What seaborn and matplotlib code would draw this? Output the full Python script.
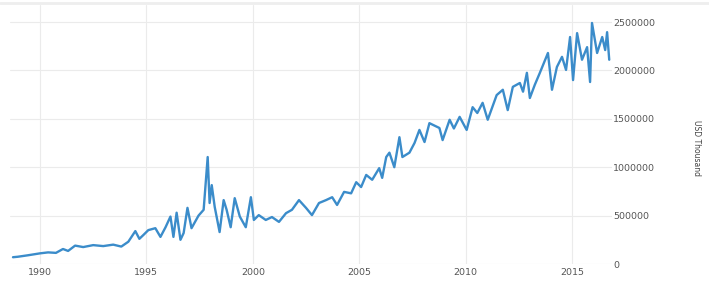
import matplotlib
matplotlib.use("Agg")
import matplotlib.pyplot as plt
import seaborn as sns
import pandas as pd
from matplotlib.lines import Line2D

years = [1988.73, 1988.96, 1989.43, 1990.00, 1990.38, 1990.75, 1991.08, 1991.32, 1991.65,
         1992.03, 1992.50, 1992.97, 1993.44, 1993.82, 1994.15, 1994.48, 1994.67, 1994.86,
         1995.09, 1995.42, 1995.66, 1995.90, 1996.13, 1996.27, 1996.42, 1996.60, 1996.75,
         1996.93, 1997.12, 1997.45, 1997.69, 1997.88, 1997.97, 1998.07, 1998.21, 1998.44,
         1998.63, 1998.77, 1998.96, 1999.15, 1999.39, 1999.67, 1999.91, 2000.05, 2000.28,
         2000.61, 2000.90, 2001.23, 2001.56, 2001.84, 2002.17, 2002.50, 2002.78, 2003.11,
         2003.44, 2003.73, 2003.96, 2004.29, 2004.62, 2004.86, 2005.09, 2005.33, 2005.61,
         2005.94, 2006.08, 2006.27, 2006.42, 2006.65, 2006.89, 2007.03, 2007.36, 2007.60,
         2007.83, 2008.07, 2008.30, 2008.77, 2008.92, 2009.25, 2009.45, 2009.72, 2010.05,
         2010.33, 2010.55, 2010.80, 2011.04, 2011.46, 2011.75, 2011.98, 2012.22, 2012.55,
         2012.70, 2012.88, 2013.02, 2013.25, 2013.49, 2013.87, 2014.06, 2014.29, 2014.53,
         2014.72, 2014.91, 2015.05, 2015.24, 2015.47, 2015.71, 2015.85, 2015.94, 2016.18,
         2016.42, 2016.56, 2016.65, 2016.75]

values = [70000, 75000, 90000, 110000, 120000, 115000, 155000, 135000, 190000,
          175000, 195000, 185000, 200000, 180000, 230000, 340000, 260000, 300000,
          350000, 370000, 280000, 380000, 490000, 280000, 530000, 250000, 320000,
          580000, 370000, 500000, 560000, 1105000, 630000, 815000, 590000, 330000,
          660000, 560000, 380000, 680000, 490000, 380000, 690000, 455000, 505000,
          455000, 485000, 435000, 525000, 560000, 660000, 580000, 505000, 630000,
          660000, 690000, 610000, 745000, 730000, 845000, 795000, 920000, 870000,
          990000, 890000, 1105000, 1150000, 1000000, 1310000, 1105000, 1150000, 1250000,
          1385000, 1260000, 1455000, 1405000, 1280000, 1490000, 1400000, 1520000, 1385000,
          1620000, 1560000, 1665000, 1490000, 1745000, 1800000, 1590000, 1830000, 1870000,
          1780000, 1975000, 1715000, 1850000, 1975000, 2180000, 1800000, 2035000, 2140000,
          2005000, 2345000, 1900000, 2385000, 2110000, 2240000, 1880000, 2490000, 2180000,
          2345000, 2210000, 2395000, 2110000]

x_ticks = [1990, 1995, 2000, 2005, 2010, 2015]
y_ticks = [0, 500000, 1000000, 1500000, 2000000, 2500000]
y_label = "USD Thousand"

df = pd.DataFrame({"year": years, "value": values})

sns.set_theme(style="white")
W, H = 709, 282
fig = plt.figure(figsize=(W / 100, H / 100), dpi=100)
ax = fig.add_axes([10 / W, (H - 264) / H, (612 - 10) / W, (264 - 5) / H])

sns.lineplot(data=df, x="year", y="value", ax=ax, color="#3b8cca", linewidth=1.7)

ax.set_xlim(1988.59, 2016.88)
ax.set_ylim(0, 2500000 * (264 - 5) / 242)

ax.set_xticks(x_ticks)
ax.set_xticklabels([str(t) for t in x_ticks])
ax.set_yticks(y_ticks)
ax.set_yticklabels([str(t) for t in y_ticks])
ax.yaxis.tick_right()
ax.tick_params(axis="both", length=0, labelsize=6.8, colors="#555555")
ax.tick_params(axis="x", pad=3)
ax.tick_params(axis="y", pad=1)

ax.grid(True, color="#ebebeb", linewidth=0.8)
ax.set_axisbelow(True)
for s in ax.spines.values():
    s.set_visible(False)

ax.set_xlabel("")
ax.set_ylabel("")
fig.text(697 / W, 1 - 148 / H, y_label, rotation=270, ha="center", va="center",
         fontsize=5.5, color="#444444")

fig.add_artist(Line2D([0, 1], [1 - 3 / H, 1 - 3 / H], transform=fig.transFigure,
                      color="#eeeeee", linewidth=2))

fig.savefig("out.png", dpi=100)
